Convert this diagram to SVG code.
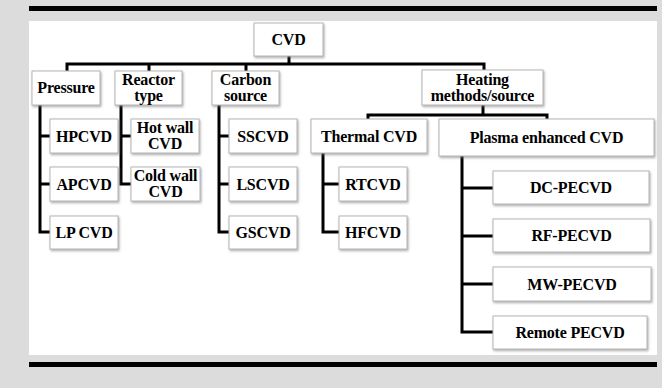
<svg xmlns="http://www.w3.org/2000/svg" width="662" height="388" viewBox="0 0 662 388">
<defs>
<filter id="sh" x="-10%" y="-10%" width="130%" height="140%">
<feDropShadow dx="1" dy="1.5" stdDeviation="0.8" flood-color="#777" flood-opacity="0.6"/>
</filter>
<style>
.b{fill:#fff;stroke:#b5b5b5;stroke-width:1;filter:url(#sh)}
.t{font-family:"Liberation Serif","Times New Roman",serif;font-weight:bold;font-size:16px;fill:#000;text-anchor:middle;letter-spacing:-0.2px}
.c{stroke:#000;stroke-width:3;fill:none;stroke-linecap:butt;stroke-linejoin:miter}
</style>
</defs>
<rect width="662" height="388" fill="#dcdcdc"/>
<rect x="29" y="21" width="628" height="334" fill="#fff"/>
<rect x="29" y="6" width="628" height="5" fill="#000"/>
<rect x="29" y="362" width="628" height="5" fill="#000"/>

<g id="connectors">
<path class="c" d="M289 56V64M67 72V64H484V71M149 64V71M246 64V71"/>
<path class="c" d="M40 105V232H50M40 136H50M40 184H50"/>
<path class="c" d="M121 105V184H131M121 136H131"/>
<path class="c" d="M219 105V232H229M219 136H229M219 184H229"/>
<path class="c" d="M483 105V115M368 119V115H547V119"/>
<path class="c" d="M323 153V232H339M323 184H339"/>
<path class="c" d="M462 156V332H493M462 188H493M462 236H493M462 284H493"/>
</g>

<g id="cvd"><rect class="b" x="254" y="23" width="69" height="33"/><text class="t" x="288.5" y="45">CVD</text></g>
<g id="pressure"><rect class="b" x="32" y="71" width="68" height="34"/><text class="t" x="66" y="93">Pressure</text></g>
<g id="reactor"><rect class="b" x="115" y="71" width="67" height="34"/><text class="t"><tspan x="148.5" y="85">Reactor</tspan><tspan x="148.5" y="101">type</tspan></text></g>
<g id="carbon"><rect class="b" x="212" y="71" width="67" height="34"/><text class="t"><tspan x="245.5" y="85">Carbon</tspan><tspan x="245.5" y="101">source</tspan></text></g>
<g id="heating"><rect class="b" x="422" y="70" width="121" height="35"/><text class="t"><tspan x="482.5" y="85">Heating</tspan><tspan x="482.5" y="101">methods/source</tspan></text></g>

<g id="hpcvd"><rect class="b" x="50" y="119" width="68" height="34"/><text class="t" x="84" y="141.5">HPCVD</text></g>
<g id="apcvd"><rect class="b" x="50" y="167" width="68" height="34"/><text class="t" x="84" y="189.5">APCVD</text></g>
<g id="lpcvd"><rect class="b" x="50" y="216" width="68" height="33"/><text class="t" x="84" y="238">LP CVD</text></g>

<g id="hotwall"><rect class="b" x="131" y="119" width="68" height="34"/><text class="t"><tspan x="165" y="133">Hot wall</tspan><tspan x="165" y="149">CVD</tspan></text></g>
<g id="coldwall"><rect class="b" x="131" y="167" width="69" height="34"/><text class="t"><tspan x="165.5" y="181">Cold wall</tspan><tspan x="165.5" y="197">CVD</tspan></text></g>

<g id="sscvd"><rect class="b" x="229" y="119" width="68" height="34"/><text class="t" x="263" y="141.5">SSCVD</text></g>
<g id="lscvd"><rect class="b" x="229" y="167" width="68" height="34"/><text class="t" x="263" y="189.5">LSCVD</text></g>
<g id="gscvd"><rect class="b" x="229" y="216" width="68" height="33"/><text class="t" x="263" y="238">GSCVD</text></g>

<g id="thermal"><rect class="b" x="311" y="119" width="116" height="34"/><text class="t" x="369" y="141.5">Thermal CVD</text></g>
<g id="rtcvd"><rect class="b" x="339" y="167" width="68" height="34"/><text class="t" x="373" y="189.5">RTCVD</text></g>
<g id="hfcvd"><rect class="b" x="339" y="216" width="68" height="33"/><text class="t" x="373" y="238">HFCVD</text></g>

<g id="plasma"><rect class="b" x="439" y="119" width="215" height="37"/><text class="t" x="546.5" y="143">Plasma enhanced CVD</text></g>
<g id="dc"><rect class="b" x="493" y="171" width="156" height="33"/><text class="t" x="571" y="193">DC-PECVD</text></g>
<g id="rf"><rect class="b" x="493" y="219" width="157" height="33"/><text class="t" x="571.5" y="241">RF-PECVD</text></g>
<g id="mw"><rect class="b" x="493" y="267" width="158" height="34"/><text class="t" x="572" y="289.5">MW-PECVD</text></g>
<g id="remote"><rect class="b" x="493" y="316" width="154" height="33"/><text class="t" x="570" y="338">Remote PECVD</text></g>
</svg>
